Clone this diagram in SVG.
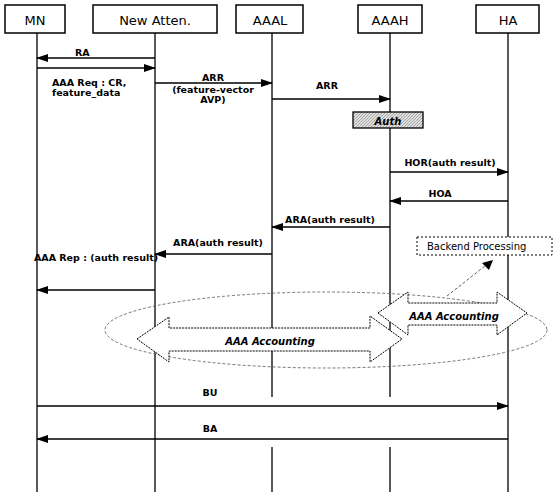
<svg xmlns="http://www.w3.org/2000/svg" width="553" height="496" viewBox="0 0 553 496">
<style>
.hdr{fill:#fff;stroke:#000;stroke-width:1.5}
.ht{font-family:"DejaVu Sans",sans-serif;font-size:13px;text-anchor:middle;fill:#000}
.life{stroke:#000;stroke-width:1.3;fill:none}
.msg{stroke:#000;stroke-width:1.3;fill:none;marker-end:url(#ah)}
.lb{font-family:"DejaVu Sans",sans-serif;font-size:9.5px;font-weight:bold;fill:#000}
.acc{fill:#fff;stroke:#000;stroke-width:1;stroke-dasharray:2 1}
.it{font-family:"DejaVu Sans",sans-serif;font-size:10px;font-weight:bold;font-style:italic;fill:#000}
</style>
<defs>
<marker id="ah" markerWidth="12" markerHeight="8" refX="11" refY="4" orient="auto" markerUnits="userSpaceOnUse">
<path d="M0,0 L12,4 L0,8 Z" fill="#000"/>
</marker>
<pattern id="hatch" width="3" height="3" patternUnits="userSpaceOnUse">
<rect width="3" height="3" fill="#ddd"/>
<path d="M0,3 L3,0" stroke="#888" stroke-width="0.6"/>
</pattern>
</defs>

<g id="lifelines">
<path class="life" d="M37,33 V492"/>
<path class="life" d="M155,33 V492"/>
<path class="life" d="M272,33 V397 M272,447 V492"/>
<path class="life" d="M390,33 V397 M390,447 V492"/>
<path class="life" d="M508,33 V492"/>
</g>

<g id="MN"><rect class="hdr" x="5" y="5" width="60" height="28"/><text class="ht" x="35" y="25">MN</text></g>
<g id="NewAtten"><rect class="hdr" x="93" y="5" width="124" height="28"/><text class="ht" x="155" y="25">New Atten.</text></g>
<g id="AAAL"><rect class="hdr" x="236" y="5" width="67" height="28"/><text class="ht" x="270" y="25">AAAL</text></g>
<g id="AAAH"><rect class="hdr" x="358" y="5" width="64" height="28"/><text class="ht" x="390" y="25">AAAH</text></g>
<g id="HA"><rect class="hdr" x="476" y="5" width="63" height="28"/><text class="ht" x="508" y="25">HA</text></g>

<g id="Auth">
<rect x="353" y="112" width="70" height="16" fill="url(#hatch)" stroke="#000" stroke-width="1.3"/>
<text class="it" x="388" y="124.5" text-anchor="middle">Auth</text>
</g>

<g id="Backend">
<rect x="417" y="237" width="135" height="18" fill="#fff" stroke="#000" stroke-width="1" stroke-dasharray="2 2"/>
<text x="427" y="250" font-family="DejaVu Sans, sans-serif" font-size="10px" fill="#000">Backend Processing</text>
</g>

<g id="accounting">
<ellipse cx="326" cy="330" rx="221" ry="38" fill="none" stroke="#555" stroke-width="0.8" stroke-dasharray="3 2"/>
<path class="acc" d="M137,339 L169,317 L169,328 L370,328 L370,316 L402,339 L370,362 L370,351 L169,351 L169,362 Z"/>
<text class="it" x="270" y="345" text-anchor="middle">AAA Accounting</text>
<path class="acc" d="M378,313 L408,292 L408,303 L497,303 L497,292 L527,313 L497,335 L497,325 L408,325 L408,335 Z"/>
<text class="it" x="454" y="320" text-anchor="middle">AAA Accounting</text>
</g>

<g id="connectors">
<path class="msg" d="M155,58 H37"/>
<path class="msg" d="M37,68 H155"/>
<path class="msg" d="M155,83 H272"/>
<path class="msg" d="M272,99 H390"/>
<path class="msg" d="M390,172 H508"/>
<path class="msg" d="M508,201 H390"/>
<path class="msg" d="M390,227 H272"/>
<path class="msg" d="M272,254 H155"/>
<path class="msg" d="M155,290 H37"/>
<path d="M447,296 L490,262" stroke="#333" stroke-width="0.8" stroke-dasharray="3 2" fill="none"/>
<path d="M493,260 L482,263 L489,270 Z" fill="#000"/>
<path class="msg" d="M37,406 H508"/>
<path class="msg" d="M508,439 H37"/>
</g>

<g id="labels">
<text class="lb" x="75" y="56">RA</text>
<text class="lb" x="52" y="86">AAA Req : CR,</text>
<text class="lb" x="52" y="96">feature_data</text>
<text class="lb" x="213" y="81" text-anchor="middle">ARR</text>
<text class="lb" x="213" y="92.5" text-anchor="middle">(feature-vector</text>
<text class="lb" x="213" y="103" text-anchor="middle">AVP)</text>
<text class="lb" x="327" y="89" text-anchor="middle">ARR</text>
<text class="lb" x="450" y="166" text-anchor="middle">HOR(auth result)</text>
<text class="lb" x="440" y="197" text-anchor="middle">HOA</text>
<text class="lb" x="330" y="223" text-anchor="middle">ARA(auth result)</text>
<text class="lb" x="218" y="246" text-anchor="middle">ARA(auth result)</text>
<text class="lb" x="96" y="261" text-anchor="middle">AAA Rep : (auth result)</text>
<text class="lb" x="210" y="396" text-anchor="middle">BU</text>
<text class="lb" x="210" y="432" text-anchor="middle">BA</text>
</g>
</svg>
